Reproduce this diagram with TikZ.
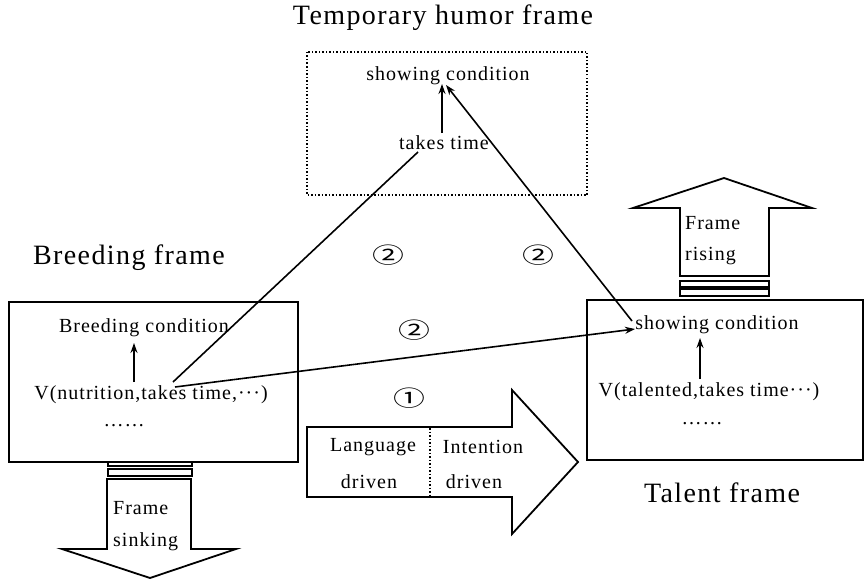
\documentclass[tikz,border=0pt]{standalone}
\usepackage{fontspec}
\setmainfont{Liberation Serif}[LetterSpace=5]
\newfontfamily\symfont{Noto Sans CJK SC}
\usetikzlibrary{arrows.meta}
\tikzset{
  txt/.style={inner sep=0pt, font=\fontsize{20}{22}\selectfont},
  ttl/.style={inner sep=0pt, font=\fontsize{28}{30}\selectfont},
  circnum/.style={inner sep=0pt, font=\symfont\fontsize{22}{24}\selectfont, xscale=1.45},
  frm/.style={draw, line width=1.8pt},
  bigarrow/.style={draw, line width=1.8pt, line join=miter},
  link/.style={line width=1.6pt},
  tip/.style={-{Stealth[length=10pt,width=7pt]}}
}
\begin{document}
\begin{tikzpicture}[x=1pt,y=-1pt]
\useasboundingbox (0,0) rectangle (864,578);
% titles
\node[ttl] (tTemp) at (443,18) {Temporary humor frame};
\node[ttl] (tBreed) at (129,258) {Breeding frame};
\node[ttl] (tTal) at (722,493) {Talent frame};
% boxes
\draw[line width=1.5pt, dotted] (307,52) rectangle (587,195);
\draw[frm] (9,302) rectangle (298,462);
\draw[frm] (587,300) rectangle (863,460);
% top box texts
\node[txt] (sc1) at (448,76) {showing condition};
\node[txt] (tt) at (444,143) {takes time};
% left box texts
\node[txt] (bc) at (144,328) {Breeding condition};
\node[txt] (vn) at (151,395) {V(nutrition,takes time,···)};
\node[txt] (dotsL) at (124,426) {……};
% right box texts
\node[txt] (sc2) at (717,325) {showing condition};
\node[txt] (vt) at (709,392) {V(talented,takes time···)};
\node[txt] (dotsR) at (702,424) {……};
% circled numbers
\node[circnum] (c2a) at (388,255) {②};
\node[circnum] (c2b) at (538,255) {②};
\node[circnum] (c2c) at (414,330) {②};
\node[circnum] (c1) at (409,398) {①};
% connector end points
\coordinate (ttB) at (442,133);
\coordinate (sc1B) at (442,84);
\coordinate (sc1R) at (446,85);
\coordinate (ttL) at (418,152);
\coordinate (vnA) at (173,382);
\coordinate (vnB) at (175,387);
\coordinate (sc2L) at (635,329);
\coordinate (sc2T) at (632,321);
\coordinate (bcB) at (134,343);
\coordinate (vnT) at (134,382);
\coordinate (sc2B) at (700,338);
\coordinate (vtT) at (700,379);
% connectors
\draw[link,tip] (ttB) -- (sc1B);
\draw[link] (vnA) -- (ttL);
\draw[link,tip] (vnB) -- (sc2L);
\draw[link,tip] (sc2T) -- (sc1R);
\draw[link,tip] (vnT) -- (bcB);
\draw[link,tip] (vtT) -- (sc2B);
% small bars under left box
\draw[line width=1.4pt] (108,462) rectangle (192,466);
\draw[line width=1.4pt] (108,469) rectangle (192,476);
% sinking arrow
\draw[bigarrow] (107,479) -- (191,479) -- (191,549) -- (236,549) -- (150,578) -- (62,549) -- (107,549) -- cycle;
\node[txt, anchor=west] (fs1) at (113,508) {Frame};
\node[txt, anchor=west] (fs2) at (113,542) {sinking};
% small bars above right box
\draw[line width=1.4pt] (680,289) rectangle (769,296);
\draw[line width=1.4pt] (680,281) rectangle (769,287);
% rising arrow
\draw[bigarrow] (680,276) -- (680,208) -- (633,208) -- (724,178) -- (812,208) -- (769,208) -- (769,276) -- cycle;
\node[txt, anchor=west] (fr1) at (685,223) {Frame};
\node[txt, anchor=west] (fr2) at (685,256) {rising};
% driving arrow
\draw[bigarrow] (307,427) -- (512,427) -- (512,390) -- (578,462) -- (512,534) -- (512,497) -- (307,497) -- cycle;
\draw[line width=1.5pt, dotted] (430,428) -- (430,496);
\node[txt] (lang) at (373,447) {Language};
\node[txt] (ld) at (369,482) {driven};
\node[txt] (intn) at (483,447) {Intention};
\node[txt] (id) at (474,482) {driven};
\end{tikzpicture}
\end{document}
